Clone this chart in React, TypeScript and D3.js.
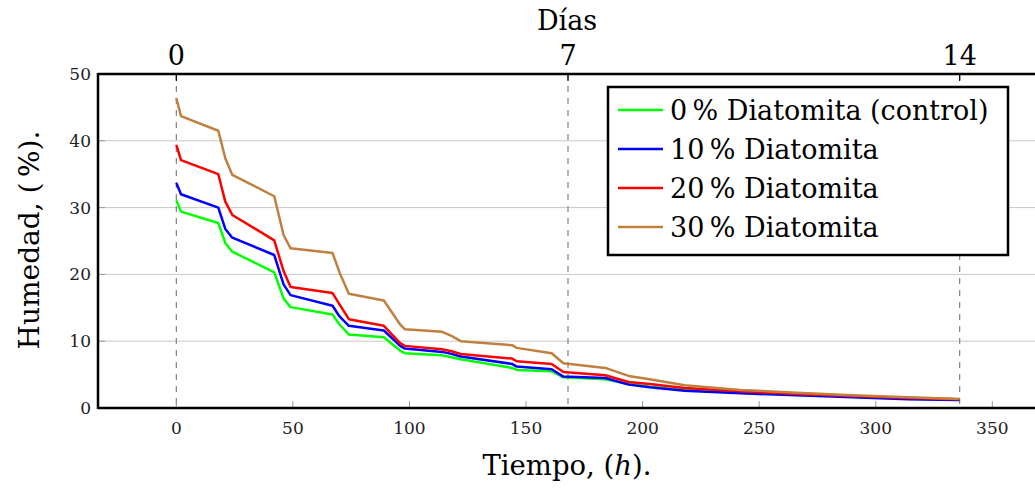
import * as d3 from "d3";

// measurement times (hours)
const hours = [0, 2, 18, 21, 24, 42, 46, 49, 67, 70, 74, 89, 96, 98, 114, 118, 122, 144, 146, 161, 166, 184, 194, 203, 218, 242, 266, 290, 314, 336];

// humidity (%) for each mix
const control0 = [31.1, 29.4, 27.7, 24.7, 23.4, 20.3, 16.4, 15.1, 14.0, 12.5, 11.0, 10.6, 8.6, 8.2, 7.9, 7.6, 7.3, 6.0, 5.7, 5.5, 4.6, 4.3, 3.6, 3.2, 2.7, 2.3, 2.0, 1.7, 1.4, 1.2];
const diat10 = [33.7, 32.0, 30.0, 26.8, 25.5, 22.9, 18.5, 16.9, 15.3, 13.7, 12.3, 11.6, 9.3, 8.9, 8.4, 8.1, 7.7, 6.6, 6.2, 5.8, 4.7, 4.5, 3.5, 3.1, 2.6, 2.2, 1.9, 1.6, 1.3, 1.2];
const diat20 = [39.4, 37.1, 35.0, 30.9, 28.9, 25.1, 20.5, 18.1, 17.2, 15.5, 13.3, 12.3, 9.7, 9.3, 8.8, 8.5, 8.1, 7.4, 7.0, 6.6, 5.4, 4.9, 3.9, 3.6, 3.0, 2.5, 2.1, 1.8, 1.5, 1.3];
const diat30 = [46.4, 43.7, 41.5, 37.4, 34.9, 31.7, 25.9, 23.9, 23.2, 20.3, 17.1, 16.1, 12.5, 11.8, 11.4, 10.8, 10.0, 9.4, 9.0, 8.2, 6.7, 6.0, 4.8, 4.3, 3.4, 2.7, 2.3, 1.9, 1.6, 1.35];

const seriesNames = ["0\u2009% Diatomita (control)", "10\u2009% Diatomita", "20\u2009% Diatomita", "30\u2009% Diatomita"];
const seriesValues = [control0, diat10, diat20, diat30];
const seriesColors = ["#00ff00", "#0000ff", "#ff0000", "#bf8040"];

const xTickValues = [0, 50, 100, 150, 200, 250, 300, 350];
const yTickValues = [0, 10, 20, 30, 40, 50];
const dayTicks = [0, 7, 14];

export default function App() {
  const width = 1035;
  const height = 488;
  const marginLeft = 98;
  const marginTop = 74;
  const plotBottom = 408;
  const font = "DejaVu Serif";

  // pgfplots style enlarged limits: 10% of 336 on each side
  const xScale = d3.scaleLinear().domain([-33.6, 369.6]).range([marginLeft, 1038]);
  const yScale = d3.scaleLinear().domain([0, 50]).range([plotBottom, marginTop]);
  // days share the same axis, 1 day = 24 h
  const dayScale = (d: number) => xScale(d * 24);

  const line = d3
    .line<[number, number]>()
    .x((d) => xScale(d[0]))
    .y((d) => yScale(d[1]));

  const legendX = 608;
  const legendY = 87;
  const legendW = 400;
  const legendH = 168;
  const rowH = 39;

  return (
    <svg width={width} height={height} style={{ position: "absolute", left: 0, top: 0, background: "white" }}>
      {/* grid */}
      {yTickValues.filter((t) => t > 0 && t < 50).map((t) => (
        <line key={t} x1={marginLeft} x2={width} y1={yScale(t)} y2={yScale(t)} stroke="#c8c8c8" strokeWidth={1} />
      ))}

      {/* day markers */}
      {dayTicks.map((d) => (
        <line key={d} x1={dayScale(d)} x2={dayScale(d)} y1={marginTop} y2={plotBottom} stroke="#808080" strokeWidth={1.2} strokeDasharray="6,6" />
      ))}

      {/* bottom ticks */}
      {xTickValues.map((t) => (
        <g key={t}>
          <line x1={xScale(t)} x2={xScale(t)} y1={plotBottom} y2={plotBottom - 7} stroke="#999" strokeWidth={1} />
          <text x={xScale(t)} y={plotBottom + 26} textAnchor="middle" fontSize={17} fontFamily={font} fill="#222">
            {t}
          </text>
        </g>
      ))}

      {/* left ticks */}
      {yTickValues.map((t) => (
        <g key={t}>
          <line x1={marginLeft} x2={marginLeft + 7} y1={yScale(t)} y2={yScale(t)} stroke="#999" strokeWidth={1} />
          <text x={marginLeft - 7} y={yScale(t) + 6} textAnchor="end" fontSize={17} fontFamily={font} fill="#222">
            {t}
          </text>
        </g>
      ))}

      {/* series */}
      {seriesValues.map((vals, i) => (
        <path
          key={i}
          d={line(hours.map((h, j) => [h, vals[j]] as [number, number])) || ""}
          fill="none"
          stroke={seriesColors[i]}
          strokeWidth={2.5}
          strokeLinejoin="round"
        />
      ))}

      {/* top axis (days) */}
      {dayTicks.map((d) => (
        <g key={d}>
          <line x1={dayScale(d)} x2={dayScale(d)} y1={marginTop} y2={marginTop + 7} stroke="black" strokeWidth={1.2} />
          <text x={dayScale(d)} y={65} textAnchor="middle" fontSize={27} fontFamily={font}>
            {d}
          </text>
        </g>
      ))}

      {/* frame */}
      <line x1={marginLeft} x2={marginLeft} y1={marginTop - 1} y2={plotBottom + 1} stroke="black" strokeWidth={2.5} />
      <line x1={marginLeft} x2={width} y1={marginTop} y2={marginTop} stroke="black" strokeWidth={2.5} />
      <line x1={marginLeft} x2={width} y1={plotBottom} y2={plotBottom} stroke="black" strokeWidth={2.5} />

      {/* legend */}
      <rect x={legendX} y={legendY} width={legendW} height={legendH} fill="white" stroke="black" strokeWidth={2.5} />
      {seriesNames.map((name, i) => (
        <g key={name} transform={`translate(${legendX + 10},${legendY + 23 + i * rowH})`}>
          <line x1={0} x2={45} y1={0} y2={0} stroke={seriesColors[i]} strokeWidth={2.5} />
          <text x={52} y={10} fontSize={27} fontFamily={font}>
            {name}
          </text>
        </g>
      ))}

      {/* axis titles */}
      <text x={567} y={30} textAnchor="middle" fontSize={27} fontFamily={font}>
        Días
      </text>
      <text x={567} y={475} textAnchor="middle" fontSize={27.5} fontFamily={font}>
        Tiempo, (<tspan fontStyle="italic">h</tspan>).
      </text>
      <text transform="translate(39,240) rotate(-90)" textAnchor="middle" fontSize={28} fontFamily={font}>
        Humedad, (&#8201;%).
      </text>
    </svg>
  );
}
